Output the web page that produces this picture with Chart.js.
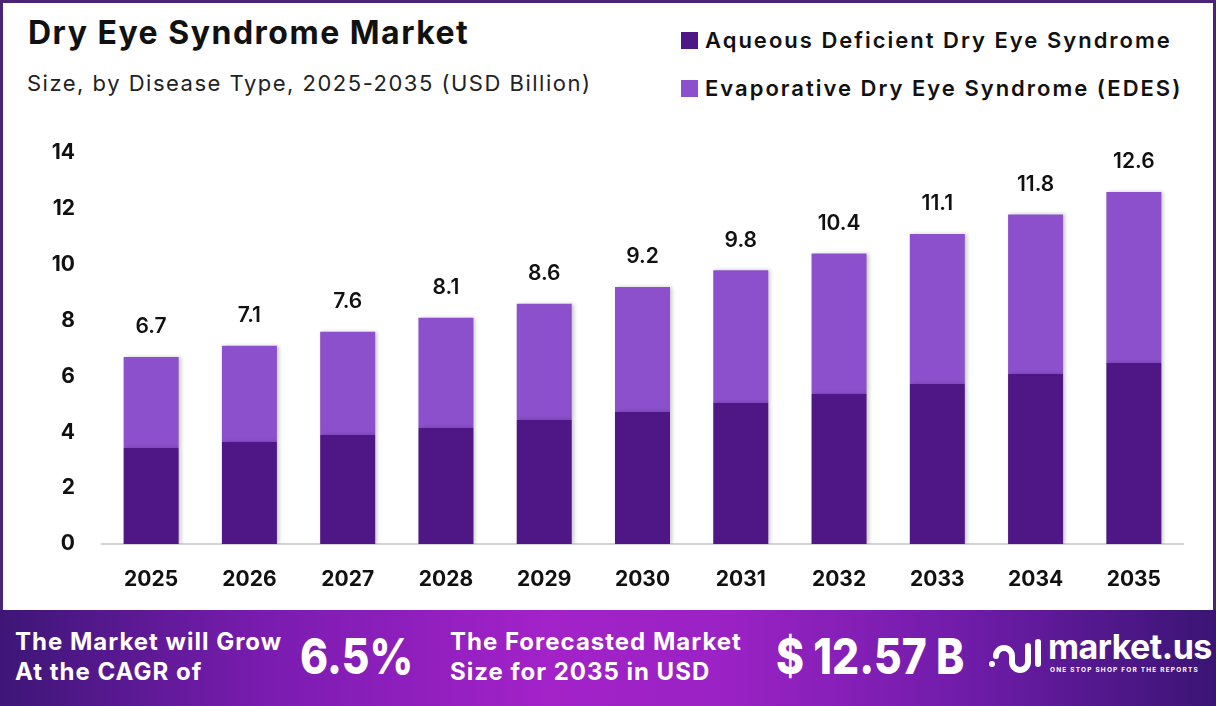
<!DOCTYPE html>
<html>
<head>
<meta charset="utf-8">
<script src="https://cdn.jsdelivr.net/npm/chart.js@4.4.1/dist/chart.umd.min.js"></script>
<style>
  html, body { margin: 0; padding: 0; }
  body { width: 1216px; height: 706px; position: relative; overflow: hidden; background: #fff; font-family: Inter, "Noto Sans", sans-serif; }
  #frame { position: absolute; left: 0; top: 0; width: 1210px; height: 640px; border: 3px solid #4a2478; border-bottom: none; }
  #title { position: absolute; left: 28px; top: 13px; font-size: 32px; font-weight: 700; color: #111; letter-spacing: 1.5px; white-space: nowrap; }
  #subtitle { position: absolute; left: 27px; top: 70px; font-size: 22px; color: #222; letter-spacing: 1.5px; white-space: nowrap; }
  .leg { position: absolute; left: 681px; font-size: 22px; font-weight: 600; color: #111; letter-spacing: 2px; white-space: nowrap; }
  .leg span { display: inline-block; width: 17px; height: 17px; margin-right: 7px; vertical-align: -1px; }
  #chartBox { position: absolute; left: 0; top: 100px; width: 1216px; height: 500px; }
  #banner { position: absolute; left: 0; top: 610px; width: 1216px; height: 96px;
    background: linear-gradient(90deg, #3d1677 0%, #7a1cb0 22%, #a322c9 45%, #9a22c4 60%, #6e1ca8 80%, #3a1474 100%); color: #fff; }
  .btxt { position: absolute; font-size: 24px; font-weight: 700; line-height: 30px; letter-spacing: 1px; white-space: nowrap; }
  .big { position: absolute; top: 21px; font-size: 50px; line-height: 50px; font-weight: 800; white-space: nowrap; transform: scaleX(0.85); transform-origin: left center; }
  #logo { position: absolute; left: 988px; top: 22px; }
  #logo .name { position: absolute; left: 60px; top: -6px; font-size: 34px; font-weight: 700; white-space: nowrap; letter-spacing: -0.5px; }
  #logo .tag { position: absolute; left: 62px; top: 34px; font-size: 6.5px; font-weight: 700; white-space: nowrap; letter-spacing: 1.2px; }
</style>
</head>
<body>
<div id="frame"></div>
<div id="title">Dry Eye Syndrome Market</div>
<div id="subtitle">Size, by Disease Type, 2025-2035 (USD Billion)</div>
<div class="leg" style="top:27px"><span style="background:#4f1785"></span>Aqueous Deficient Dry Eye Syndrome</div>
<div class="leg" style="top:75px"><span style="background:#8c50cc"></span>Evaporative Dry Eye Syndrome (EDES)</div>
<div id="chartBox"><canvas id="chart" width="1216" height="500"></canvas></div>
<div id="banner">
  <div class="btxt" style="left:15px; top:17px">The Market will Grow<br>At the CAGR of</div>
  <div class="big" style="left:300px">6.5%</div>
  <div class="btxt" style="left:450px; top:17px">The Forecasted Market<br>Size for 2035 in USD</div>
  <div class="big" style="left:776px">$ 12.57 B</div>
  <div id="logo">
    <svg width="56" height="50" viewBox="0 0 56 50">
      <g fill="none" stroke="#fff" stroke-width="6" stroke-linecap="round">
        <path d="M8 24 a8 8 0 0 1 16 0 v6 a8 8 0 0 0 16 0 V14"/>
        <path d="M50 10 v22"/>
      </g>
      <circle cx="4" cy="32" r="3" fill="#fff"/>
    </svg>
    <div class="name">market.us</div>
    <div class="tag">ONE STOP SHOP FOR THE REPORTS</div>
  </div>
</div>

<script>
// 데이터
const years = ['2025', '2026', '2027', '2028', '2029', '2030', '2031', '2032', '2033', '2034', '2035'];
const aqueous = [3.44, 3.65, 3.9, 4.15, 4.44, 4.73, 5.05, 5.37, 5.73, 6.09, 6.48];
const evaporative = [3.26, 3.45, 3.7, 3.95, 4.16, 4.47, 4.75, 5.03, 5.37, 5.71, 6.12];
const totals = [6.7, 7.1, 7.6, 8.1, 8.6, 9.2, 9.8, 10.4, 11.1, 11.8, 12.6];
const yTicks = [0, 2, 4, 6, 8, 10, 12, 14];

// 막대 그림자
const shadowPlugin = {
    id: 'barShadow',
    beforeDatasetsDraw(chart) {
        const ctx = chart.ctx;
        ctx.save();
        ctx.shadowColor = 'rgba(0,0,0,0.22)';
        ctx.shadowBlur = 4;
        ctx.shadowOffsetX = 2;
    },
    afterDatasetsDraw(chart) {
        chart.ctx.restore();
    }
};

// 합계 라벨
const totalLabels = {
    id: 'totalLabels',
    afterDatasetsDraw(chart) {
        const ctx = chart.ctx;
        const x = chart.scales.x;
        const y = chart.scales.y;
        ctx.save();
        ctx.font = '600 21px Inter, sans-serif';
        ctx.fillStyle = '#111';
        ctx.textAlign = 'center';
        ctx.textBaseline = 'middle';
        totals.forEach((t, i) => {
            ctx.fillText(t.toFixed(1), x.getPixelForValue(i), y.getPixelForValue(t) - 30);
        });
        ctx.restore();
    }
};

const ctx = document.getElementById('chart').getContext('2d');
new Chart(ctx, {
    type: 'bar',
    data: {
        labels: years,
        datasets: [
            { label: 'Aqueous Deficient Dry Eye Syndrome', data: aqueous, backgroundColor: '#4f1785' },
            { label: 'Evaporative Dry Eye Syndrome (EDES)', data: evaporative, backgroundColor: '#8c50cc' }
        ]
    },
    options: {
        responsive: false,
        animation: false,
        layout: { padding: { top: 53, right: 33, left: 0, bottom: 0 } },
        plugins: { legend: { display: false }, tooltip: { enabled: false } },
        datasets: { bar: { categoryPercentage: 1, barPercentage: 0.56 } },
        scales: {
            x: {
                stacked: true,
                grid: { display: false, drawTicks: false },
                border: { display: true, color: '#d4d4d4', width: 2 },
                ticks: { color: '#111', font: { family: 'Inter', size: 21, weight: '700' }, padding: 23 },
                afterFit(scale) { scale.height = 56; }
            },
            y: {
                stacked: true,
                min: 0,
                max: 14,
                afterBuildTicks(scale) { scale.ticks = yTicks.map(v => ({ value: v })); },
                grid: { display: false, drawTicks: false },
                border: { display: false },
                ticks: { color: '#111', font: { family: 'Inter', size: 21, weight: '700' }, padding: 27 },
                afterFit(scale) { scale.width = 102; }
            }
        }
    },
    plugins: [shadowPlugin, totalLabels]
});
</script>
</body>
</html>
